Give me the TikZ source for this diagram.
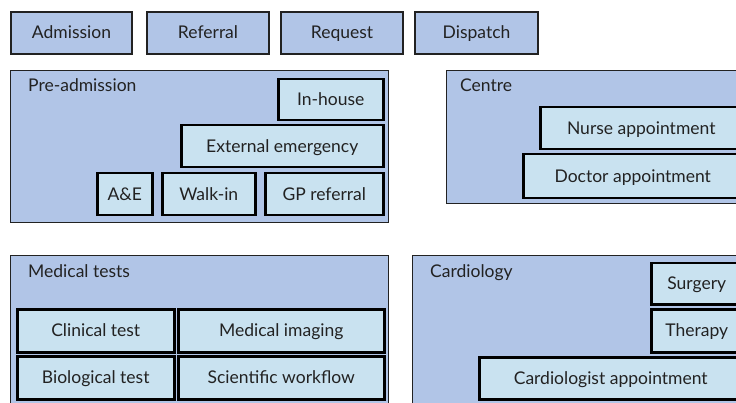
\documentclass[tikz,border=0pt]{standalone}
\usepackage{fontspec}
\setmainfont{Lato}
\definecolor{outerfill}{HTML}{B1C5E7}
\definecolor{innerfill}{HTML}{C9E2F0}
\definecolor{inktext}{HTML}{222222}
\definecolor{frame}{HTML}{222222}
\tikzset{
  every node/.style={font=\fontsize{17.5}{20}\selectfont, text=inktext,
    text height=1.25em, text depth=0.05em},
  tab/.style={draw=frame, line width=2pt, fill=outerfill, inner sep=0pt, anchor=north west},
  group/.style={draw=frame, line width=1.3pt, fill=outerfill, inner sep=0pt, anchor=north west},
  item/.style={draw=black, line width=2.5pt, fill=innerfill, inner sep=0pt, anchor=north west},
  grouplabel/.style={anchor=west, inner sep=0pt},
}
\begin{document}
\begin{tikzpicture}[x=1pt, y=-1pt]
\useasboundingbox (0,0) rectangle (736,403);
\clip (0,0) rectangle (736,403);
\fill[white] (0,0) rectangle (736,403);

% top row of tabs
\node[tab, minimum width=121pt, minimum height=42pt] (admission) at (10,11) {Admission};
\node[tab, minimum width=122pt, minimum height=42pt] (referral) at (146,11) {Referral};
\node[tab, minimum width=122pt, minimum height=42pt] (request) at (280,11) {Request};
\node[tab, minimum width=123pt, minimum height=42pt] (dispatch) at (414,11) {Dispatch};

% Pre-admission group
\node[group, minimum width=378pt, minimum height=152pt] (preadm) at (10,70) {};
\node[grouplabel] (preadmlbl) at (28,86) {Pre-admission};
\node[item, minimum width=105pt, minimum height=41pt] (inhouse) at (277,78) {In-house};
\node[item, minimum width=202pt, minimum height=42pt] (extem) at (180,124) {External emergency};
\node[item, minimum width=55pt, minimum height=42pt] (ae) at (96,172) {A\&E};
\node[item, minimum width=93pt, minimum height=42pt] (walkin) at (161,172) {Walk-in};
\node[item, minimum width=118pt, minimum height=42pt] (gpref) at (264,172) {GP referral};

% Centre group
\node[group, minimum width=301pt, minimum height=133pt] (centre) at (446,70) {};
\node[grouplabel] (centrelbl) at (460,86) {Centre};
\node[item, minimum width=202pt, minimum height=42pt] (nurse) at (539,106) {Nurse appointment};
\node[item, minimum width=219pt, minimum height=44pt] (doctor) at (522,153) {Doctor appointment};

% Medical tests group
\node[group, minimum width=378pt, minimum height=160pt] (medtests) at (10,255) {};
\node[grouplabel] (medtestslbl) at (28,272) {Medical tests};
\node[item, minimum width=157pt, minimum height=43pt] (clinical) at (16,308) {Clinical test};
\node[item, minimum width=206pt, minimum height=43pt] (imaging) at (177,308) {Medical imaging};
\node[item, minimum width=157pt, minimum height=43pt] (bio) at (16,355) {Biological test};
\node[item, minimum width=206pt, minimum height=43pt] (sciwf) at (177,355) {Scientific workflow};

% Cardiology group
\node[group, minimum width=335pt, minimum height=160pt] (cardio) at (412,255) {};
\node[grouplabel] (cardiolbl) at (430,272) {Cardiology};
\node[item, minimum width=91pt, minimum height=41pt] (surgery) at (650,262) {Surgery};
\node[item, minimum width=91pt, minimum height=43pt] (therapy) at (650,308) {Therapy};
\node[item, minimum width=263pt, minimum height=42pt] (cardapp) at (478,356) {Cardiologist appointment};
\end{tikzpicture}
\end{document}
